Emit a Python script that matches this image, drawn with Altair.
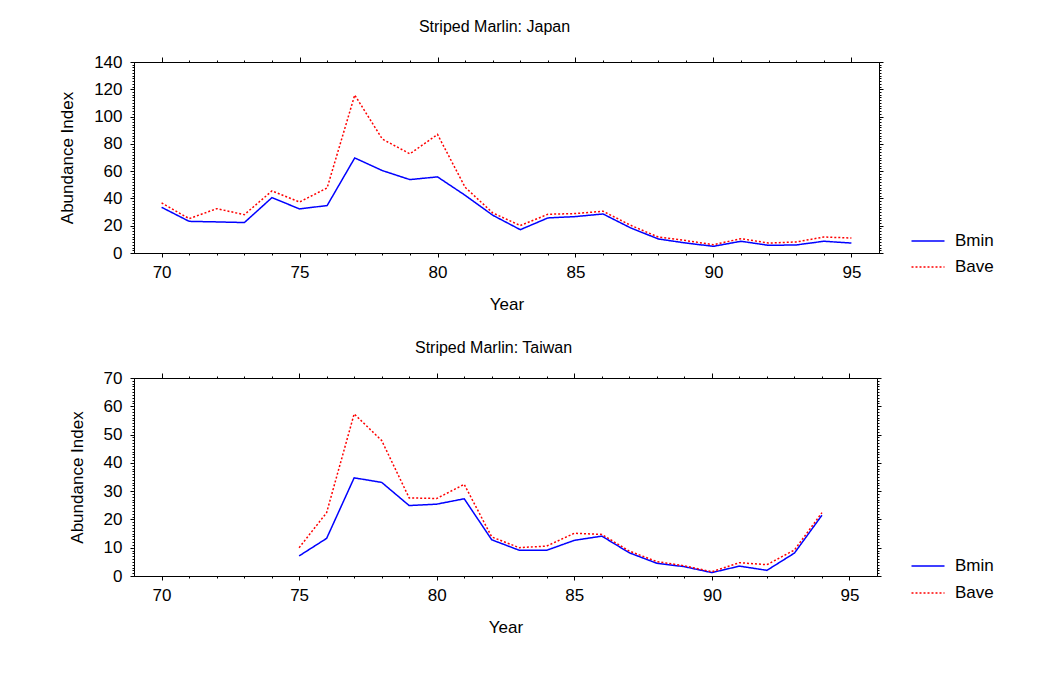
import altair as alt
import pandas as pd

# ---- data ----
series_names = ["Bmin", "Bave"]
series_colors = ["#0000ff", "#ff0000"]

years_japan = list(range(70, 96))
japan_bmin = [33.5, 23.2, 22.8, 22.3, 40.6, 32.3, 34.8, 69.7, 60.4, 53.8, 55.8, 42.3, 27.7,
              17.1, 25.7, 26.7, 28.6, 18.4, 10.3, 7.3, 4.9, 8.6, 5.6, 5.9, 8.6, 7.3]
japan_bave = [36.7, 25.2, 32.5, 28.1, 45.5, 37.4, 47.7, 115.8, 83.5, 72.7, 86.9, 48.2, 29.4,
              20.1, 28.4, 28.9, 30.6, 20.3, 11.7, 9.1, 6.1, 10.5, 7.3, 8.1, 11.7, 11.0]

years_taiwan = list(range(75, 95))
taiwan_bmin = [7.1, 13.3, 34.7, 33.1, 24.9, 25.4, 27.3, 12.8, 9.1, 9.1, 12.6, 14.1, 8.2,
               4.5, 3.3, 1.2, 3.5, 2.0, 8.1, 21.5]
taiwan_bave = [10.0, 22.4, 57.3, 47.9, 27.6, 27.4, 32.4, 13.8, 10.0, 10.6, 15.1, 14.7, 8.8,
               5.1, 3.6, 1.5, 4.7, 4.0, 9.2, 22.4]

x_domain = [69, 96]
x_ticks = list(range(70, 96))
y_ticks_japan = list(range(0, 141, 2))
y_ticks_taiwan = list(range(0, 71, 1))

FONT = "Liberation Sans"
FS = 17


def panel(years, bmin, bave, title, ymax, yvals, ymajor, width, height, lx, ly, toff, rowpad):
    n = len(years)
    df = pd.DataFrame({
        "Year": years + years,
        "value": bmin + bave,
        "series": ["Bmin"] * n + ["Bave"] * n,
    })
    xscale = alt.Scale(domain=x_domain, nice=False, zero=False)
    yscale = alt.Scale(domain=[0, ymax], nice=False)
    xcond = {"condition": {"test": "datum.value % 5 === 0", "value": 4}, "value": 2}
    xcond_top = {"condition": {"test": "datum.value % 5 === 0", "value": 5}, "value": 2}
    ycond = {"condition": {"test": f"datum.value % {ymajor} === 0", "value": 4}, "value": 2}
    leg = alt.Legend(
        title=None, orient="none", legendX=lx, legendY=ly,
        symbolType="M-1.5,0L1.5,0", symbolSize=484, symbolStrokeWidth=1.5,
        labelFontSize=FS, labelFont=FONT, labelOffset=15, rowPadding=rowpad, padding=0,
        labelColor="black",
    )
    lines = alt.Chart(df).mark_line(strokeWidth=1.5).encode(
        x=alt.X("Year:Q", scale=xscale, axis=alt.Axis(
            values=x_ticks, orient="bottom", title="Year",
            labelExpr="datum.value % 5 === 0 ? datum.label : ''",
            tickSize=xcond, labelPadding=7, titlePadding=16)),
        y=alt.Y("value:Q", scale=yscale, axis=alt.Axis(
            values=yvals, orient="left", title="Abundance Index",
            labelExpr=f"datum.value % {ymajor} === 0 ? datum.label : ''",
            tickSize=ycond, labelPadding=8, titlePadding=17)),
        color=alt.Color("series:N", scale=alt.Scale(domain=series_names, range=series_colors), legend=leg),
        strokeDash=alt.StrokeDash("series:N", scale=alt.Scale(domain=series_names, range=[[1, 0], [2, 2]]), legend=leg),
    )
    mirror = alt.Chart(df).mark_point(opacity=0).encode(
        x=alt.X("Year:Q", scale=xscale, axis=alt.Axis(
            values=x_ticks, orient="top", title=None, labels=False, tickSize=xcond_top)),
        y=alt.Y("value:Q", scale=yscale, axis=alt.Axis(
            values=yvals, orient="right", title=None, labels=False, tickSize=ycond)),
    )
    return alt.layer(lines, mirror).resolve_axis(x="independent", y="independent").properties(
        width=width, height=height,
        title=alt.TitleParams(title, fontSize=16, font=FONT, fontWeight="normal", color="black",
                              anchor="middle", offset=toff, dx=-12),
    )


top = panel(years_japan, japan_bmin, japan_bave, "Striped Marlin: Japan", 140,
            y_ticks_japan, 20, 745, 191, 782, 167, 18, 6)
bottom = panel(years_taiwan, taiwan_bmin, taiwan_bave, "Striped Marlin: Taiwan", 70,
               y_ticks_taiwan, 10, 743, 198, 782, 176, 13, 7)

chart = alt.vconcat(top, bottom, spacing=26).resolve_scale(
    color="independent", strokeDash="independent"
).resolve_legend(
    color="independent", strokeDash="independent"
).properties(
    padding={"left": 50, "top": 10, "right": 5, "bottom": 5}
).configure_view(stroke="black", strokeWidth=1).configure_axis(
    grid=False, domainColor="black", tickColor="black", labelColor="black", titleColor="black",
    labelFont=FONT, titleFont=FONT, labelFontSize=FS, titleFontSize=FS, titleFontWeight="normal",
    domainWidth=1, tickWidth=1,
).configure_concat(spacing=26)

chart.save("out.html", embed_options={"renderer": "svg", "actions": False})
